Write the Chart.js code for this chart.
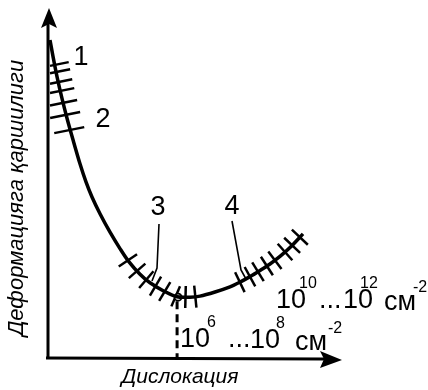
<!DOCTYPE html>
<html>
<head>
<meta charset="utf-8">
<script src="https://cdn.jsdelivr.net/npm/chart.js@4"></script>
<style>
  html, body { margin: 0; padding: 0; background: #fff; }
  #wrap { width: 428px; height: 390px; position: relative; }
</style>
</head>
<body>
<div id="wrap"><canvas id="chart"></canvas></div>
<script>
// Кривая: сопротивление деформации от плотности дислокаций (условные единицы 0..100)
const curveX = [0.67, 1.68, 3.03, 4.71, 6.40, 8.42, 10.77, 12.79, 14.81, 17.51, 20.88, 24.24, 26.94, 30.98, 34.34, 39.39, 43.43, 47.81, 51.18, 56.23, 61.28, 64.65, 68.01, 71.38, 74.75, 78.11, 81.48, 85.86];
const curveY = [92.7, 87.9, 82.0, 75.6, 69.8, 63.5, 56.5, 51.2, 46.8, 41.9, 36.5, 31.7, 28.2, 24.2, 21.7, 19.1, 17.6, 17.5, 17.8, 19.0, 20.5, 21.9, 23.5, 25.3, 27.2, 29.4, 32.0, 36.0];

// Минимум кривой
const minPoint = { x: 43.8, y: 17.5 };

// Штриховка: зона 1-2 (по y), зоны 3 и 4 (по x)
const hatchTopY = [85.4, 83.3, 80.4, 77.8, 74.3, 70.8, 66.4];
const hatchMidX = [26.9, 30.0, 33.1, 36.2, 39.3, 43.0, 46.3, 49.6];
const hatchRightX = [64.6, 68.0, 70.7, 73.7, 76.4, 79.8, 82.2, 84.8];

// Подписи
const zoneLabels = ['1', '2', '3', '4'];
const axisTitleY = 'Деформацияга қаршилиги';
const axisTitleX = 'Дислокация';

const FONT = '"Liberation Sans", Arial, sans-serif';

function curvePixels(chart) {
  return chart.getDatasetMeta(0).data.map(p => ({ x: p.x, y: p.y }));
}

// точка на кривой по пиксельному x + направление
function onCurveAtX(pts, px) {
  for (let i = 0; i < pts.length - 1; i++) {
    const a = pts[i], b = pts[i + 1];
    if (px >= a.x && px <= b.x) {
      const t = (px - a.x) / (b.x - a.x);
      return { x: px, y: a.y + t * (b.y - a.y), dx: b.x - a.x, dy: b.y - a.y };
    }
  }
  const a = pts[pts.length - 2], b = pts[pts.length - 1];
  return { x: px, y: b.y, dx: b.x - a.x, dy: b.y - a.y };
}

function onCurveAtY(pts, py) {
  for (let i = 0; i < pts.length - 1; i++) {
    const a = pts[i], b = pts[i + 1];
    if (py >= a.y && py <= b.y) {
      const t = (py - a.y) / (b.y - a.y);
      return { x: a.x + t * (b.x - a.x), y: py };
    }
  }
  return { x: pts[0].x, y: py };
}

function line(ctx, x1, y1, x2, y2) {
  ctx.beginPath();
  ctx.moveTo(x1, y1);
  ctx.lineTo(x2, y2);
  ctx.stroke();
}

function supText(ctx, parts) {
  parts.forEach(p => {
    ctx.font = p[3] + 'px ' + FONT;
    ctx.fillText(p[0], p[1], p[2]);
  });
}

const hatchPlugin = {
  id: 'hatches',
  beforeDatasetsDraw(chart) {
    const ctx = chart.ctx;
    const xs = chart.scales.x, ys = chart.scales.y;
    const pts = curvePixels(chart);
    const axisX = chart.chartArea.left;
    ctx.save();
    ctx.strokeStyle = '#000';
    ctx.lineCap = 'butt';
    ctx.lineWidth = 2.5;

    // зона 1-2: почти горизонтальные штрихи
    hatchTopY.forEach(v => {
      const py = ys.getPixelForValue(v);
      const c = onCurveAtY(pts, py);
      const l = Math.max(axisX + 2, c.x - 16);
      const r = c.x + 14;
      line(ctx, l, py + 0.2 * (c.x - l), r, py - 0.2 * (r - c.x));
    });

    // зоны 3 и 4: штрихи перпендикулярно кривой
    hatchMidX.concat(hatchRightX).forEach(v => {
      const c = onCurveAtX(pts, xs.getPixelForValue(v));
      const len = Math.hypot(c.dx, c.dy);
      const nx = -c.dy / len, ny = c.dx / len;
      const h = 11;
      line(ctx, c.x - nx * h, c.y - ny * h, c.x + nx * h, c.y + ny * h);
    });

    // штриховая линия от минимума к оси
    const mx = xs.getPixelForValue(minPoint.x);
    const my = ys.getPixelForValue(minPoint.y);
    ctx.lineWidth = 3;
    ctx.setLineDash([8, 5]);
    line(ctx, mx - 1, my + 4, mx - 1, chart.chartArea.bottom);
    ctx.setLineDash([]);
    ctx.restore();
  },
  afterDraw(chart) {
    const ctx = chart.ctx;
    const { left, bottom } = chart.chartArea;
    ctx.save();
    ctx.strokeStyle = '#000';
    ctx.fillStyle = '#000';

    // оси со стрелками
    ctx.lineWidth = 3;
    line(ctx, left, bottom + 1, left, 24);
    ctx.beginPath();
    ctx.moveTo(left + 1, 8);
    ctx.lineTo(left + 9, 28);
    ctx.lineTo(left + 1, 24);
    ctx.lineTo(left - 7, 28);
    ctx.closePath();
    ctx.fill();

    line(ctx, left - 2, bottom + 1, 324, bottom + 2);
    ctx.beginPath();
    ctx.moveTo(342, bottom + 3);
    ctx.lineTo(320, bottom - 6);
    ctx.lineTo(324, bottom + 2);
    ctx.lineTo(320, bottom + 11);
    ctx.closePath();
    ctx.fill();

    // выноски 3 и 4
    ctx.lineWidth = 1.6;
    ctx.beginPath();
    ctx.moveTo(159, 224);
    ctx.lineTo(157, 268);
    ctx.lineTo(152, 281);
    ctx.stroke();
    ctx.beginPath();
    ctx.moveTo(232, 221);
    ctx.lineTo(241, 270);
    ctx.lineTo(246, 279);
    ctx.stroke();

    // номера зон
    ctx.font = '27px ' + FONT;
    ctx.textAlign = 'center';
    ctx.textBaseline = 'middle';
    const labelPos = [[81, 58], [103, 120], [158, 208], [232, 207]];
    zoneLabels.forEach((t, i) => ctx.fillText(t, labelPos[i][0], labelPos[i][1]));

    // плотности дислокаций
    ctx.textAlign = 'left';
    ctx.textBaseline = 'alphabetic';
    supText(ctx, [
      ['10', 276, 308, 27], ['10', 299, 288, 16], ['...', 319, 308, 27],
      ['10', 343, 308, 27], ['12', 360, 288, 16], ['см', 384, 310, 27], ['-2', 413, 292, 16]
    ]);
    supText(ctx, [
      ['10', 180, 347, 27], ['6', 207, 327, 16], ['...', 228, 347, 27],
      ['10', 250, 348, 27], ['8', 276, 328, 16], ['см', 295, 350, 27], ['-2', 328, 333, 16]
    ]);

    // названия осей
    ctx.textAlign = 'center';
    ctx.textBaseline = 'middle';
    ctx.font = 'italic 21px ' + FONT;
    ctx.fillText(axisTitleX, 180, 377);
    ctx.translate(17, 198);
    ctx.rotate(-Math.PI / 2);
    ctx.font = 'italic 22px ' + FONT;
    ctx.fillText(axisTitleY, 0, 0);
    ctx.restore();
  }
};

new Chart(document.getElementById('chart'), {
  type: 'scatter',
  data: {
    datasets: [
      {
        data: curveX.map((x, i) => ({ x: x, y: curveY[i] })),
        showLine: true,
        borderColor: '#000',
        borderWidth: 3.5,
        pointRadius: 0,
        tension: 0.3
      },
      {
        data: [minPoint],
        pointRadius: 3.5,
        pointBackgroundColor: '#fff',
        pointBorderColor: '#000',
        pointBorderWidth: 1.8
      }
    ]
  },
  options: {
    responsive: true,
    maintainAspectRatio: false,
    animation: false,
    layout: { padding: { left: 48, right: 83, top: 15, bottom: 33 } },
    scales: {
      x: { type: 'linear', min: 0, max: 100, display: false },
      y: { type: 'linear', min: 0, max: 100, display: false }
    },
    plugins: {
      legend: { display: false },
      tooltip: { enabled: false }
    }
  },
  plugins: [hatchPlugin]
});
</script>
</body>
</html>
